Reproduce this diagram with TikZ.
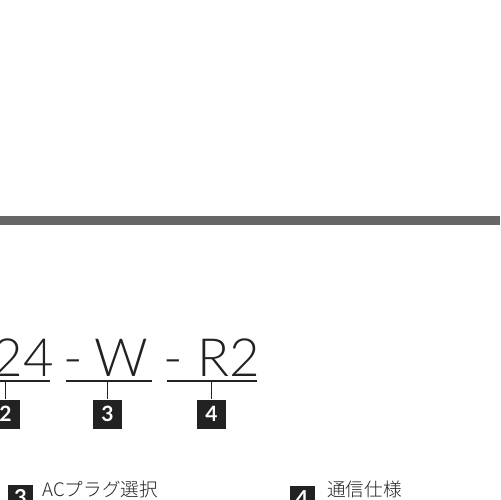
\documentclass[tikz,border=0pt]{standalone}
\usepackage{fontspec}
\setmainfont{Lato}
\newfontfamily\lightfont{Lato Light}
\newfontfamily\jpfont{Noto Sans CJK JP Light}
\usetikzlibrary{positioning}
\definecolor{bargray}{RGB}{102, 102, 102}
\definecolor{inkblack}{RGB}{34, 34, 34}

\begin{document}
\begin{tikzpicture}[x=0.02cm, y=-0.02cm,
                    seg/.style={inner sep=0pt, anchor=base, text=inkblack,
                                font=\lightfont\fontsize{30}{30}\selectfont},
                    numbox/.style={fill=inkblack, text=white, minimum size=0.58cm,
                                   inner sep=0pt, font=\bfseries\fontsize{12}{12}\selectfont},
                    smallbox/.style={fill=inkblack, text=white, minimum size=0.5cm,
                                     inner sep=0pt, font=\bfseries\fontsize{12.5}{12.5}\selectfont},
                    label/.style={inner sep=0pt, anchor=base west, text=inkblack,
                                  font=\jpfont\fontsize{10.6}{10.6}\selectfont},
                    uline/.style={draw=inkblack, line width=0.85pt}]
  \useasboundingbox (0,0) rectangle (500,500);
  \clip (0,0) rectangle (500,500);

  % top bar
  \fill[bargray] (0,216) rectangle (500,225);

  % model code
  \node[seg] (volt)  at (23.5,376)  {24};
  \node[seg] (dash1) at (73,376)    {-};
  \node[seg] (plug)  at (121.5,376) {W};
  \node[seg] (dash2) at (173.5,376) {-};
  \node[seg] (comm)  at (228.5,376) {R2};

  % underlines
  \coordinate (volt-l) at (0,381);   \coordinate (volt-r) at (50,381);
  \coordinate (plug-l) at (66,381);  \coordinate (plug-r) at (152,381);
  \coordinate (comm-l) at (167,381); \coordinate (comm-r) at (257,381);
  \draw[uline] (volt-l) -- (volt-r);
  \draw[uline] (plug-l) -- (plug-r);
  \draw[uline] (comm-l) -- (comm-r);

  % numbered boxes
  \node[numbox] (n2) at (5.5,414)   {2};
  \node[numbox] (n3) at (107.5,414) {3};
  \node[numbox] (n4) at (211.5,414) {4};

  \coordinate (t2) at (5.5,381);
  \coordinate (t3) at (107.5,381);
  \coordinate (t4) at (211.5,381);
  \draw[uline] (t2) -- (n2.north);
  \draw[uline] (t3) -- (n3.north);
  \draw[uline] (t4) -- (n4.north);

  % legend
  \node[smallbox] (k3) at (20.5,497.5) {3};
  \node[label] (plugsel) at (42,496) {ACプラグ選択};
  \node[smallbox] (k4) at (302,498.5) {4};
  \node[label] (commspec) at (327,496) {通信仕様};
\end{tikzpicture}
\end{document}
